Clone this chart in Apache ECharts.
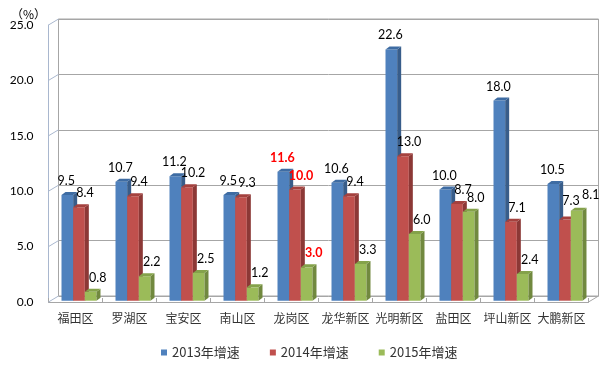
<!DOCTYPE html>
<html>
<head>
<meta charset="utf-8">
<script src="https://cdn.jsdelivr.net/npm/echarts@6/dist/echarts.min.js"></script>
<style>html,body{margin:0;padding:0;background:#fff}#c{width:614px;height:375px}</style>
</head>
<body>
<div id="c"></div>
<script>
// ---- data ----
const categories = ['福田区','罗湖区','宝安区','南山区','龙岗区','龙华新区','光明新区','盐田区','坪山新区','大鹏新区'];
const seriesNames = ['2013年增速','2014年增速','2015年增速'];
const growth2013 = [9.5, 10.7, 11.2, 9.5, 11.6, 10.6, 22.6, 10.0, 18.0, 10.5];
const growth2014 = [8.4, 9.4, 10.2, 9.3, 10.0, 9.4, 13.0, 8.7, 7.1, 7.3];
const growth2015 = [0.8, 2.2, 2.5, 1.2, 3.0, 3.3, 6.0, 8.0, 2.4, 8.1];
const yTicks = [0, 5, 10, 15, 20, 25];
const unitLabel = '（%）';
const highlightCategory = '龙岗区';

// ---- styles ----
const faceColors = [
  {front:'#4F81BD', side:'#385D8A', top:'#3E6CA3'},
  {front:'#C0504D', side:'#8C3836', top:'#A4413E'},
  {front:'#9BBB59', side:'#71893F', top:'#84A24A'}
];
const labelDX = [-1, 6, 7];
const labelShift = {'9-1':[0,-5], '9-2':[7,-2]};
const DEPTH_X = 4, DEPTH_Y = 3;
const WALL_DX = 10, WALL_DY = -6;
const numFont = 'Lato, "Liberation Sans", sans-serif';
const cjkFont = '"Noto Sans CJK SC", sans-serif';

const allSeries = [growth2013, growth2014, growth2015];

function barRenderer(sIdx){
  return function(params, api){
    const cat = api.value(0), val = api.value(1);
    const base = api.coord([cat, 0]);
    const top = api.coord([cat, val]);
    const band = api.size([1, 0])[0];
    const w = band * 0.216;
    const cx = base[0] + (sIdx - 1) * w;
    const c = faceColors[sIdx];
    const l = cx - w/2, r = cx + w/2, t = top[1], b = base[1];
    const isHi = categories[cat] === highlightCategory;
    const sh = labelShift[cat + '-' + sIdx] || [0,0];
    return {
      type: 'group',
      children: [
        {type:'rect', shape:{x:l, y:t, width:w, height:b-t}, style:{fill:c.front}},
        {type:'polygon', shape:{points:[[r,t],[r+DEPTH_X,t-DEPTH_Y],[r+DEPTH_X,b-DEPTH_Y],[r,b]]}, style:{fill:c.side}},
        {type:'polygon', shape:{points:[[l,t],[l+DEPTH_X,t-DEPTH_Y],[r+DEPTH_X,t-DEPTH_Y],[r,t]]}, style:{fill:c.top}},
        {type:'text', z2: 10, style:{
          text: val.toFixed(1), x: cx + labelDX[sIdx] + sh[0], y: t - 14 + sh[1],
          align:'center', verticalAlign:'middle',
          fill: isHi ? '#FF0000' : '#000', fontSize: 12.5,
          fontWeight: isHi ? 'bold' : 'normal', fontFamily: numFont
        }}
      ]
    };
  };
}

function wallRenderer(params, api){
  const v = api.value(0);
  const cs = params.coordSys;
  const p = api.coord([0, v]);
  const y = p[1];
  const children = [{type:'line', shape:{x1:cs.x, y1:y, x2:cs.x+WALL_DX, y2:y+WALL_DY}, style:{stroke:'#A9B7CE', lineWidth:1}}];
  if (v === 0) {
    children.push({type:'line', shape:{x1:cs.x+cs.width, y1:y, x2:cs.x+cs.width+WALL_DX, y2:y+WALL_DY}, style:{stroke:'#A6A6A6', lineWidth:1}});
  }
  return {type:'group', children};
}

const chart = echarts.init(document.getElementById('c'), null, {renderer:'canvas'});
const option = {
  animation: false,
  color: faceColors.map(c => c.front),
  title: {text: unitLabel, left: 6, top: 3, textStyle:{fontSize:12, fontWeight:'normal', color:'#000', fontFamily: cjkFont}},
  legend: {
    data: seriesNames, left: 156, top: 341, itemWidth: 6, itemHeight: 6, itemGap: 30, icon: 'rect',
    textStyle: {fontSize: 13, color: '#333', fontFamily: cjkFont}
  },
  grid: [
    {left: 58.5, top: 19, width: 540, height: 277, show: true, borderColor: '#A6A6A6', borderWidth: 1, backgroundColor:'transparent'},
    {left: 48.5, top: 25, width: 540, height: 277},
    {left: 52, top: 22.7, width: 540, height: 278}
  ],
  xAxis: [
    {gridIndex:0, type:'category', data: categories, show:false},
    {gridIndex:1, type:'category', data: categories,
      axisLine:{show:true, lineStyle:{color:'#A6A6A6'}},
      axisTick:{show:true, inside:true, length:4, lineStyle:{color:'#A6A6A6'}},
      axisLabel:{fontSize:12, color:'#333', margin:10, fontFamily: cjkFont, interval:0}},
    {gridIndex:2, type:'category', data: categories, show:false}
  ],
  yAxis: [
    {gridIndex:0, type:'value', min:0, max:25, interval:5, axisLabel:{show:false}, axisLine:{show:false}, axisTick:{show:false},
      splitLine:{show:true, lineStyle:{color:'#A6A6A6', width:1}}},
    {gridIndex:1, type:'value', min:0, max:25, interval:5,
      axisLabel:{fontSize:12, color:'#000', margin:15, fontFamily:numFont, formatter: v => v.toFixed(1)},
      axisLine:{show:true, lineStyle:{color:'#A9B7CE'}}, axisTick:{show:false}, splitLine:{show:false}},
    {gridIndex:2, type:'value', min:0, max:25, interval:5, show:false, splitLine:{show:false}}
  ],
  series: [
    {type:'custom', name:'wall', xAxisIndex:1, yAxisIndex:1, renderItem: wallRenderer, data: yTicks.map(v => [v]), encode:{y:0}, silent:true, legendHoverLink:false},
  ].concat(allSeries.map((arr, i) => ({
    type:'custom', name: seriesNames[i], xAxisIndex:2, yAxisIndex:2,
    itemStyle:{color: faceColors[i].front},
    renderItem: barRenderer(i),
    encode:{x:0, y:1},
    data: arr.map((v, k) => [k, v])
  })))
};
chart.setOption(option);
</script>
</body>
</html>
